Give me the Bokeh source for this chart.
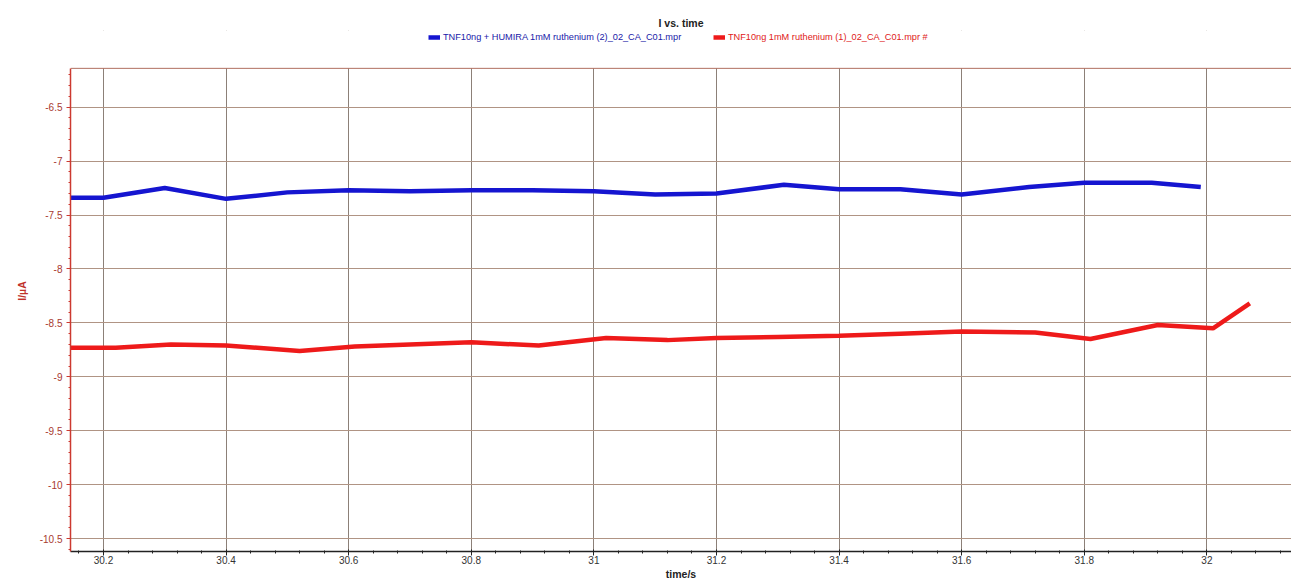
import numpy as np
from bokeh.plotting import figure
from bokeh.models import FixedTicker, Legend, LegendItem, Range1d, Span, BoxAnnotation
from bokeh.embed import file_html
from bokeh.resources import INLINE

# ---- data ----
time_blue = [30.10, 30.20, 30.30, 30.40, 30.50, 30.60, 30.70, 30.80, 30.90, 31.00,
             31.10, 31.20, 31.31, 31.40, 31.50, 31.60, 31.71, 31.80, 31.91, 31.99]
current_blue = [-7.34, -7.34, -7.25, -7.35, -7.29, -7.27, -7.28, -7.27, -7.27, -7.28,
                -7.31, -7.30, -7.22, -7.26, -7.26, -7.31, -7.24, -7.20, -7.20, -7.24]

time_red = [30.10, 30.22, 30.31, 30.40, 30.52, 30.61, 30.70, 30.80, 30.91, 31.02,
            31.12, 31.20, 31.30, 31.40, 31.50, 31.60, 31.72, 31.81, 31.92, 32.01, 32.07]
current_red = [-8.73, -8.73, -8.70, -8.71, -8.76, -8.72, -8.70, -8.68, -8.71, -8.64,
               -8.66, -8.64, -8.63, -8.62, -8.60, -8.58, -8.59, -8.65, -8.52, -8.55, -8.32]

label_blue = "TNF10ng + HUMIRA 1mM ruthenium (2)_02_CA_C01.mpr"
label_red = "TNF10ng 1mM ruthenium (1)_02_CA_C01.mpr #"

x_ticks = [30.2, 30.4, 30.6, 30.8, 31.0, 31.2, 31.4, 31.6, 31.8, 32.0]
x_tick_labels = ["30.2", "30.4", "30.6", "30.8", "31", "31.2", "31.4", "31.6", "31.8", "32"]
y_ticks = [-6.5, -7.0, -7.5, -8.0, -8.5, -9.0, -9.5, -10.0, -10.5]
y_tick_labels = ["-6.5", "-7", "-7.5", "-8", "-8.5", "-9", "-9.5", "-10", "-10.5"]

title_text = "I vs. time"
x_label = "time/s"
y_label = "I/\u00b5A"

# axis extents (data units) of the plotted box
x_lo, x_hi = 30.1462, 32.138
y_lo, y_hi = -10.62, -6.14
y_view_top = -5.789   # room above the box for the legend row

# ---- figure ----
p = figure(width=1291, height=582, output_backend="svg", toolbar_location=None,
           x_range=Range1d(x_lo, x_hi), y_range=Range1d(y_lo, y_view_top),
           min_border_left=70, min_border_right=0, min_border_top=30, min_border_bottom=29)
p.background_fill_color = "white"
p.border_fill_color = "white"
p.outline_line_color = None

p.title.text = title_text
p.title.align = "center"
p.title.text_font = "Liberation Sans"
p.title.text_font_size = "10.5px"
p.title.text_font_style = "bold"
p.title.text_color = "#222222"
p.title.standoff = 3

# white strip above the box (hides grid lines in the legend row)
p.add_layout(BoxAnnotation(bottom=y_hi, fill_color="white", fill_alpha=1.0,
                           line_alpha=0, level="underlay"))

r_blue = p.line(time_blue, current_blue, line_color="#1515d0", line_width=4.5)
r_red = p.line(time_red, current_red, line_color="#ee1a1a", line_width=4.5)

# top border of the plotting box
p.add_layout(Span(location=y_hi, dimension="width", line_color="#b07060", line_width=1))

# ticks
x_minor = list(np.round(np.arange(30.16, 32.14, 0.04), 2))
y_minor = list(np.round(np.arange(-10.6, -6.15, 0.1), 2))
p.xaxis.ticker = FixedTicker(ticks=x_ticks, minor_ticks=x_minor)
p.yaxis.ticker = FixedTicker(ticks=y_ticks, minor_ticks=y_minor)
p.xaxis.major_label_overrides = {t: l for t, l in zip(x_ticks, x_tick_labels)}
p.yaxis.major_label_overrides = {t: l for t, l in zip(y_ticks, y_tick_labels)}

# x axis style
xa = p.xaxis[0]
xa.axis_label = x_label
xa.axis_label_text_font = "Liberation Sans"
xa.axis_label_text_font_size = "10.5px"
xa.axis_label_text_font_style = "bold"
xa.axis_label_text_color = "#222222"
xa.axis_label_standoff = 1
xa.axis_line_color = "#222222"
xa.axis_line_width = 1.5
xa.major_tick_line_color = "#222222"
xa.minor_tick_line_color = "#222222"
xa.major_tick_out = 4
xa.major_tick_in = 2
xa.minor_tick_out = 2
xa.minor_tick_in = 1
xa.major_label_standoff = 0
xa.major_label_text_font = "Liberation Sans"
xa.major_label_text_font_size = "10px"
xa.major_label_text_color = "#333333"

# y axis style
ya = p.yaxis[0]
ya.bounds = (y_lo, y_hi)
ya.axis_label = y_label
ya.axis_label_text_font = "Liberation Sans"
ya.axis_label_text_font_size = "10.5px"
ya.axis_label_text_font_style = "bold"
ya.axis_label_text_color = "#c0302a"
ya.axis_label_standoff = 9
ya.axis_line_color = "#cc3a30"
ya.axis_line_width = 1.5
ya.major_tick_line_color = "#cc3a30"
ya.minor_tick_line_color = "#cc3a30"
ya.major_tick_out = 4
ya.major_tick_in = 0
ya.minor_tick_out = 2
ya.minor_tick_in = 0
ya.major_label_standoff = 4
ya.major_label_text_font = "Liberation Sans"
ya.major_label_text_font_size = "10px"
ya.major_label_text_color = "#a83a30"

# grid
p.xgrid.grid_line_color = "#8c8078"
p.xgrid.grid_line_width = 1
p.ygrid.grid_line_color = "#b09484"
p.ygrid.grid_line_width = 1

# legends (one per entry so each label keeps its series colour)
def make_legend(item_label, renderer, color, loc):
    lg = Legend(items=[LegendItem(label=item_label, renderers=[renderer])],
                location=loc, orientation="horizontal",
                padding=0, margin=0, spacing=0,
                glyph_width=12, glyph_height=12, label_height=12, label_standoff=3,
                background_fill_alpha=0, border_line_alpha=0,
                label_text_font="Liberation Sans", label_text_font_size="9.2px",
                label_text_color=color)
    return lg

p.add_layout(make_legend(label_blue, r_blue, "#2020a8", (358, 508)), "center")
p.add_layout(make_legend(label_red, r_red, "#e02020", (643, 508)), "center")

open("out.html", "w").write(file_html(p, INLINE))
